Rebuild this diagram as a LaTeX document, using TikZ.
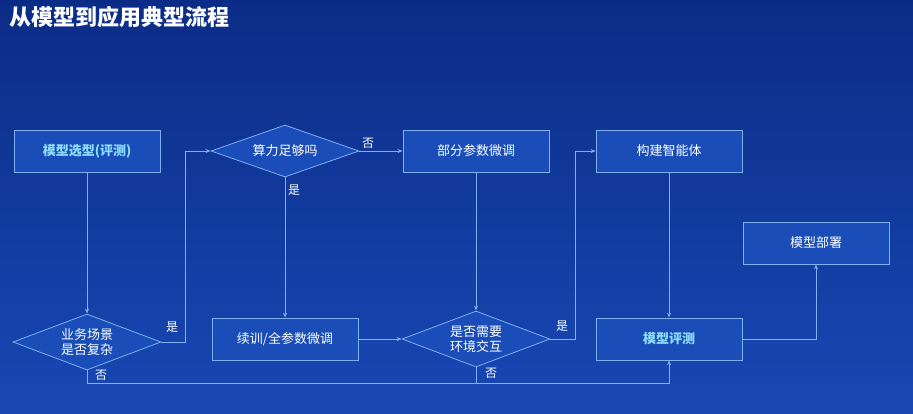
\documentclass[tikz,border=0pt]{standalone}
\usepackage{fontspec}
\setmainfont{Noto Sans CJK SC}
\usetikzlibrary{shapes.geometric,arrows.meta}
\definecolor{bgtop}{HTML}{0B2C86}
\definecolor{bgbot}{HTML}{1848B4}
\definecolor{edge}{HTML}{7FB0F0}
\definecolor{boxfill}{HTML}{1A4DB8}
\definecolor{hl}{HTML}{8FE0FF}
\begin{document}
\begin{tikzpicture}[x=1pt,y=-1pt,
  bx/.style={draw=edge,fill=boxfill,line width=0.8pt,minimum width=146pt,minimum height=42pt,text=white,font=\fontsize{13}{15}\selectfont},
  dm/.style={draw=edge,fill=boxfill,line width=0.8pt,diamond,aspect=2.9,inner sep=1pt,minimum width=148pt,minimum height=52pt,text=white,align=center,font=\fontsize{13}{15}\selectfont},
  ln/.style={draw=edge,line width=0.8pt},
  ar/.style={ln,-{Stealth[length=5pt,width=4pt]}},
  lb/.style={text=white,font=\fontsize{12}{14}\selectfont}]
\shade[top color=bgtop,bottom color=bgbot] (0,0) rectangle (913,413);
\useasboundingbox (0,0) rectangle (913,413);
\node[anchor=west,text=white,font=\bfseries\fontsize{22}{26}\selectfont] (title) at (6,17) {从模型到应用典型流程};
\node[bx,text=hl,font=\bfseries\fontsize{13}{15}\selectfont] (sel) at (87,151) {模型选型(评测)};
\node[dm] (d1) at (285,151) {算力足够吗};
\node[bx] (part) at (476,151) {部分参数微调};
\node[bx] (agent) at (669,151) {构建智能体};
\node[bx] (dep) at (816,243) {模型部署};
\node[dm,minimum height=56pt] (d0) at (87,342) {业务场景\\是否复杂};
\node[bx] (full) at (285,339) {续训/全参数微调};
\node[dm,minimum height=56pt] (d3) at (476,339) {是否需要\\环境交互};
\node[bx,text=hl,font=\bfseries\fontsize{13}{15}\selectfont] (eval) at (669,339) {模型评测};
\coordinate (c1) at (185,342);
\coordinate (c2) at (185,151);
\coordinate (c3) at (575,339);
\coordinate (c4) at (575,151);
\coordinate (c5) at (87,383);
\coordinate (c6) at (669,383);
\coordinate (c7) at (476,383);
\coordinate (c8) at (816,339);
\draw[ar] (sel) -- (d0);
\draw[ar] (d0.east) -- (c1) -- (c2) -- (d1.west);
\node[lb] (y0) at (172,327) {是};
\draw[ar] (d1.east) -- (part.west);
\node[lb] (n1) at (368,143) {否};
\draw[ar] (d1.south) -- (full.north);
\node[lb] (y1) at (294,190) {是};
\draw[ar] (full.east) -- (d3.west);
\draw[ar] (part.south) -- (d3.north);
\draw[ar] (d3.east) -- (c3) -- (c4) -- (agent.west);
\node[lb] (y3) at (562,326) {是};
\draw[ar] (agent.south) -- (eval.north);
\draw[ar] (d0.south) -- (c5) -- (c6) -- (eval.south);
\draw[ln] (d3.south) -- (c7);
\node[lb] (n0) at (101,375) {否};
\node[lb] (n3) at (491,373) {否};
\draw[ar] (eval.east) -- (c8) -- (dep.south);
\end{tikzpicture}
\end{document}
